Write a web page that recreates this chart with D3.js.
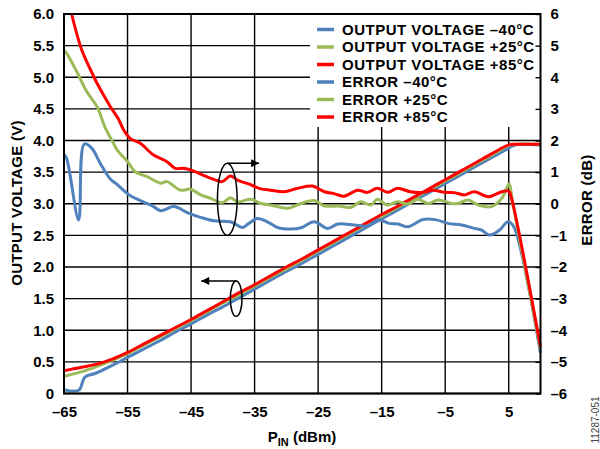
<!DOCTYPE html>
<html>
  <head>
    <meta charset="UTF-8" />
    <script src="https://cdnjs.cloudflare.com/ajax/libs/d3/7.8.5/d3.min.js"></script>
    <style>
      body { margin: 0; background: #fff; }
      text { font-family: "Liberation Sans", Arial, Helvetica, sans-serif; font-weight: bold; fill: #000; }
      .tick line { stroke: #000; }
      path.domain { stroke: none; fill: none; }
    </style>
  </head>
  <body>
    <div id="viz"><svg width="600" height="449"></svg></div>
    <script>
      // x ticks (dBm) and y ticks
      let pinTicks = [-65, -55, -45, -35, -25, -15, -5, 5];
      let voltTicks = [0, 0.5, 1, 1.5, 2, 2.5, 3, 3.5, 4, 4.5, 5, 5.5, 6];
      let errTicks = [-6, -5, -4, -3, -2, -1, 0, 1, 2, 3, 4, 5, 6];

      // output voltage (V)
      let outPin = [-65, -63.5, -62, -60, -57.5, -55, -52.5, -50, -47.5, -45, -42.5, -40, -37.5, -35, -32.5, -30,
        -27.5, -25, -22.5, -20, -17.5, -15, -12.5, -10, -7.5, -5, -2.5, 0, 2.5, 5, 6, 10];
      let outP25 = [0.27, 0.31, 0.35, 0.42, 0.52, 0.63, 0.76, 0.89, 1.02, 1.15, 1.29, 1.43, 1.56, 1.70, 1.84, 1.97,
        2.11, 2.25, 2.39, 2.53, 2.67, 2.80, 2.94, 3.08, 3.22, 3.36, 3.50, 3.64, 3.78, 3.92, 3.94, 3.94];
      let outP85 = [0.36, 0.39, 0.42, 0.46, 0.54, 0.65, 0.78, 0.91, 1.04, 1.17, 1.31, 1.45, 1.59, 1.72, 1.86, 2.00,
        2.13, 2.27, 2.41, 2.55, 2.69, 2.83, 2.96, 3.10, 3.24, 3.38, 3.52, 3.66, 3.80, 3.93, 3.94, 3.94];
      let outPinM40 = [-65, -62.7, -61.7, -60, -57.5, -55, -52.5, -50, -47.5, -45, -42.5, -40, -37.5, -35, -32.5, -30,
        -27.5, -25, -22.5, -20, -17.5, -15, -12.5, -10, -7.5, -5, -2.5, 0, 2.5, 5, 6, 10];
      let outM40 = [0.06, 0.05, 0.26, 0.32, 0.44, 0.57, 0.70, 0.83, 0.97, 1.10, 1.24, 1.37, 1.51, 1.65, 1.79, 1.93,
        2.06, 2.20, 2.34, 2.48, 2.62, 2.76, 2.90, 3.04, 3.18, 3.32, 3.46, 3.60, 3.74, 3.88, 3.93, 3.93];

      // error (dB)
      let errPinM40 = [-65, -64.6, -62.7, -61.8, -60.6, -59.3, -57.7, -56.7, -54.6, -53.0, -50.9, -49.8, -47.7, -45.6,
        -43.5, -41.4, -38.8, -36.9, -35.9, -34.6, -33.0, -31.4, -29.3, -27.7, -25.6, -23.5, -21.9, -19.3, -17.2,
        -15.6, -13.8, -12.4, -10.9, -8.5, -6.4, -4.6, -2.4, -0.4, 0.7, 2.0, 3.5, 4.9, 5.8, 10];
      let errM40 = [1.55, 1.44, -0.51, 1.89, 1.75, 1.28, 0.78, 0.62, 0.26, 0.10, -0.09, -0.22, -0.09, -0.28,
        -0.43, -0.54, -0.57, -0.75, -0.62, -0.47, -0.57, -0.75, -0.80, -0.76, -0.57, -0.78, -0.64, -0.67, -0.70,
        -0.51, -0.62, -0.64, -0.73, -0.50, -0.51, -0.62, -0.67, -0.78, -0.83, -0.99, -0.84, -0.57, -0.73, -4.73];

      let errPinP25 = [-65, -64.6, -63.0, -61.4, -59.8, -58.5, -57.2, -56.7, -54.8, -53.8, -51.9, -49.8, -48.8, -46.7,
        -45.1, -43.5, -41.9, -40.1, -38.8, -37.7, -35.6, -34.0, -32.5, -29.8, -27.7, -25.6, -24.0, -21.9, -19.8,
        -18.3, -16.7, -15.7, -14.1, -12.5, -10.9, -9.3, -7.7, -6.1, -4.0, -3.0, -1.4, 0.2, 2.3, 3.9, 4.9, 5.1, 5.6, 10];
      let errP25 = [4.85, 4.76, 4.18, 3.54, 3.07, 2.40, 1.91, 1.72, 1.28, 1.01, 0.86, 0.65, 0.70, 0.43,
        0.46, 0.28, 0.17, 0.03, 0.19, 0.06, 0.14, 0.01, -0.04, -0.14, 0.01, 0.10, -0.07, -0.07, -0.11,
        0.06, -0.04, 0.14, -0.04, 0.06, -0.01, 0.14, 0.01, 0.12, 0.01, 0.01, 0.12, -0.04, -0.09, 0.17, 0.59, 0.62, 0.06, -4.6];

      let errPinP85 = [-63.8, -62.2, -60.5, -59.8, -57.7, -56.5, -55.6, -54.6, -53.0, -50.9, -48.8, -47.5, -46.3,
        -45.1, -43.5, -41.4, -40.1, -38.8, -37.7, -35.6, -34.0, -32.5, -30.4, -28.2, -25.9, -24.0, -22.5, -20.9,
        -18.8, -17.2, -15.7, -14.0, -12.5, -10.5, -8.4, -7.0, -5.1, -3.5, -2.0, -0.4, 1.8, 3.9, 5.0, 5.4, 10];
      let errP85 = [6.0, 4.86, 4.10, 3.81, 3.07, 2.70, 2.33, 2.07, 1.91, 1.54, 1.33, 1.12, 1.12,
        1.07, 0.94, 0.77, 0.70, 0.88, 0.75, 0.60, 0.47, 0.43, 0.38, 0.49, 0.56, 0.38, 0.32, 0.24,
        0.43, 0.36, 0.49, 0.36, 0.49, 0.38, 0.36, 0.43, 0.36, 0.35, 0.28, 0.38, 0.22, 0.38, 0.40, 0.20, -4.52];

      let legendLabels = ["OUTPUT VOLTAGE \u201340\u00b0C", "OUTPUT VOLTAGE +25\u00b0C", "OUTPUT VOLTAGE +85\u00b0C",
        "ERROR \u201340\u00b0C", "ERROR +25\u00b0C", "ERROR +85\u00b0C"];
      let colors = ["#4f81bd", "#9bbb59", "#ff0000", "#4f81bd", "#9bbb59", "#ff0000"];

      let fmtMinus = s => String(s).replace("-", "\u2013");

      let svg = d3.select("svg");
      let pLeft = 64, pRight = 540.5, pTop = 14, pBottom = 393.5;

      let xScale = d3.scaleLinear().domain([-65, 10]).range([pLeft, pRight]);
      let yV = d3.scaleLinear().domain([0, 6]).range([pBottom, pTop]);
      let yE = d3.scaleLinear().domain([-6, 6]).range([pBottom, pTop]);

      // grid
      let grid = svg.append("g");
      grid.selectAll("line.h").data(voltTicks).enter().append("line")
        .attr("x1", pLeft).attr("x2", pRight)
        .attr("y1", d => yV(d)).attr("y2", d => yV(d))
        .attr("stroke", "#000").attr("stroke-width", 1.4);
      grid.selectAll("line.v").data(pinTicks).enter().append("line")
        .attr("x1", d => xScale(d)).attr("x2", d => xScale(d))
        .attr("y1", pTop).attr("y2", pBottom)
        .attr("stroke", "#000").attr("stroke-width", 1.4);

      // legend box covers grid
      svg.append("rect").attr("x", 310).attr("y", pTop).attr("width", pRight - 310).attr("height", 113)
        .attr("fill", "#fff");

      // right axis inner ticks
      svg.append("g").attr("transform", `translate(${pRight},0)`)
        .call(d3.axisRight(yE).tickValues(errTicks).tickSize(-5).tickPadding(10).tickFormat(fmtMinus))
        .call(g => g.selectAll("text").style("font-size", "15px"))
        .call(g => g.selectAll(".tick line").attr("stroke-width", 1.4));

      svg.append("g").attr("transform", `translate(${pLeft},0)`)
        .call(d3.axisLeft(yV).tickValues(voltTicks).tickSize(0).tickPadding(10)
          .tickFormat(d => d === 0 ? "0" : d3.format(".1f")(d)))
        .call(g => g.selectAll("text").style("font-size", "15px"));

      svg.append("g").attr("transform", `translate(0,${pBottom})`)
        .call(d3.axisBottom(xScale).tickValues(pinTicks).tickSize(0).tickPadding(13).tickFormat(fmtMinus))
        .call(g => g.selectAll("text").style("font-size", "15px"));

      // series
      let series = [
        [outPinM40, outM40, yV], [outPin, outP25, yV], [outPin, outP85, yV],
        [errPinM40, errM40, yE], [errPinP25, errP25, yE], [errPinP85, errP85, yE]
      ];
      series.forEach((s, i) => {
        let line = d3.line().curve(d3.curveCatmullRom.alpha(0.5))
          .x(d => xScale(d[0])).y(d => s[2](d[1]));
        svg.append("path")
          .attr("d", line(d3.zip(s[0], s[1])))
          .attr("fill", "none")
          .attr("stroke", colors[i])
          .attr("stroke-width", 3)
          .attr("stroke-linejoin", "round");
      });

      // frame
      svg.append("rect").attr("x", pLeft).attr("y", pTop).attr("width", pRight - pLeft).attr("height", pBottom - pTop)
        .attr("fill", "none").attr("stroke", "#000").attr("stroke-width", 2);

      // legend
      let leg = svg.append("g").attr("transform", "translate(317,29.5)");
      legendLabels.forEach((lab, i) => {
        leg.append("line").attr("x1", 0).attr("x2", 17).attr("y1", i * 17.5).attr("y2", i * 17.5)
          .attr("stroke", colors[i]).attr("stroke-width", 3.5);
        leg.append("text").attr("x", 25).attr("y", i * 17.5).attr("dy", "0.36em")
          .style("font-size", "15px").style("letter-spacing", "0.5px").text(lab);
      });

      // annotations: ellipses with arrows (data coordinates)
      let defs = svg.append("defs");
      defs.append("marker").attr("id", "head").attr("viewBox", "0 0 10 10")
        .attr("refX", 10).attr("refY", 5).attr("markerWidth", 16).attr("markerHeight", 8)
        .attr("markerUnits", "userSpaceOnUse").attr("orient", "auto")
        .append("path").attr("d", "M0,0L10,5L0,10Z").attr("fill", "#000");

      let notes = [
        { cx: -39.3, cy: 3.07, dx: 1.55, dy: 0.57, tip: -34.3 },
        { cx: -37.9, cy: 1.5, dx: 0.92, dy: 0.28, tip: -43.4 }
      ];
      notes.forEach(n => {
        let px = xScale(n.cx), py = yV(n.cy);
        let rx = xScale(n.cx + n.dx) - px, ry = py - yV(n.cy + n.dy);
        svg.append("ellipse").attr("cx", px).attr("cy", py).attr("rx", rx).attr("ry", ry)
          .attr("fill", "none").attr("stroke", "#000").attr("stroke-width", 1.5);
        svg.append("line").attr("x1", px).attr("y1", py - ry).attr("x2", xScale(n.tip)).attr("y2", py - ry)
          .attr("stroke", "#000").attr("stroke-width", 1.5).attr("marker-end", "url(#head)");
      });

      // axis titles
      svg.append("text").attr("transform", "translate(22,203) rotate(-90)")
        .attr("text-anchor", "middle").style("font-size", "15px").style("letter-spacing", "0.3px")
        .text("OUTPUT VOLTAGE (V)");
      svg.append("text").attr("transform", "translate(592,200) rotate(-90)")
        .attr("text-anchor", "middle").style("font-size", "15px").style("letter-spacing", "0.3px")
        .text("ERROR (dB)");
      let xt = svg.append("text").attr("x", 302).attr("y", 442).attr("text-anchor", "middle").style("font-size", "15px");
      xt.append("tspan").text("P");
      xt.append("tspan").attr("dy", 4).style("font-size", "11px").text("IN");
      xt.append("tspan").attr("dy", -4).text(" (dBm)");

      svg.append("text").attr("transform", "translate(599,420) rotate(-90)")
        .attr("text-anchor", "middle").style("font-size", "10px").style("font-weight", "normal")
        .style("fill", "#444").text("11287-051");
    </script>
  </body>
</html>
